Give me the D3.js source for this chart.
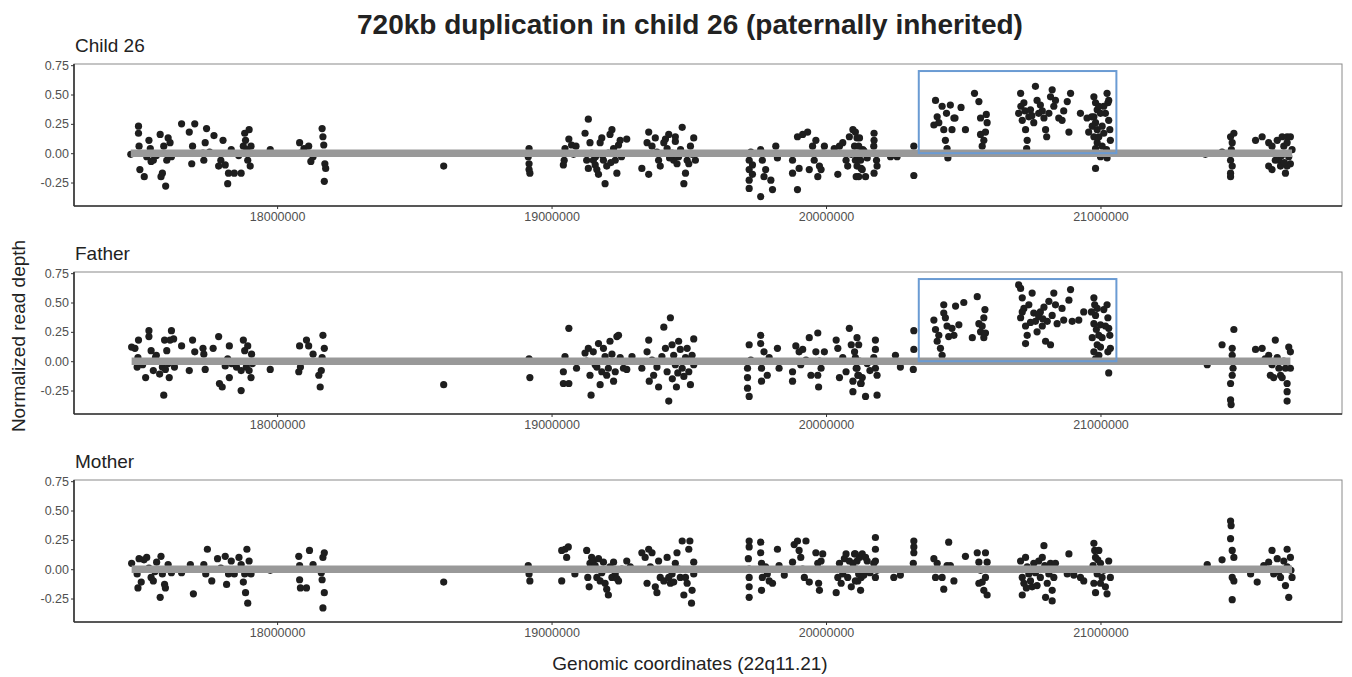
<!DOCTYPE html>
<html>
<head>
<meta charset="utf-8">
<script src="https://cdn.jsdelivr.net/npm/d3@7"></script>
<style>
    body { margin: 0; background: #fff; }
    text { font-family: "Liberation Sans", Arial, sans-serif; }
    .axis text { fill: #505050; font-size: 12.5px; }
    .axis line { stroke: #333; }
    .axis path { display: none; }
</style>
</head>
<body>
<div id="chart-area"></div>
<script>

// ---- data (positions in kb, normalized read depth) ----
const panelTitles = ["Child 26", "Father", "Mother"];
const xTicks = [18000000, 19000000, 20000000, 21000000];
const yTicks = [-0.25, 0, 0.25, 0.5, 0.75];
const dupRegion = [20338, 21058];   // kb
const dupTop = 0.70;
const showDupBox = [true, true, false];

const childPts = [
    [17467,-0.01],[17495,0.23],[17495,0.17],[17497,0.06],[17500,-0.14],[17516,-0.20],[17533,0.11],[17538,0.04],[17541,-0.07],[17549,-0.06],[17574,0.16],[17577,-0.20],[17582,-0.17],[17587,0.06],[17594,-0.28],[17598,-0.06],[17603,0.13],[17610,0.09],[17615,-0.03],[17560,-0.02],[17525,-0.03],
    [17652,0.25],[17680,0.18],[17689,-0.09],[17692,0.06],[17700,0.25],[17730,0.00],[17733,-0.06],[17738,0.09],[17743,0.21],[17754,0.01],[17770,0.15],[17787,-0.11],[17795,-0.06],[17803,0.11],[17811,-0.10],[17820,-0.26],[17823,-0.17],[17833,0.03],[17844,-0.17],[17869,-0.17],[17877,0.06],[17882,0.17],[17885,0.11],[17893,-0.06],[17898,0.20],[17902,-0.11],[17905,0.06],[17890,0.03],[17860,-0.02],
    [17975,0.03],
    [18082,0.09],[18085,0.00],[18098,0.04],[18115,0.06],[18123,-0.07],[18131,-0.03],[18164,0.21],[18167,0.14],[18170,0.07],[18174,-0.09],[18177,-0.13],[18172,-0.24],
    [18607,-0.11],
    [18915,-0.03],[18918,0.04],[18918,-0.09],[18918,-0.14],[18921,-0.17],
    [19043,-0.10],[19046,-0.06],[19049,0.04],[19063,0.12],[19073,0.07],[19089,0.06],[19080,-0.01],
    [19134,0.29],[19122,0.17],[19128,-0.06],[19134,-0.13],[19140,0.09],[19146,0.00],[19152,-0.06],[19159,-0.10],[19165,-0.14],[19171,-0.18],[19177,0.09],[19183,0.13],[19189,-0.06],[19195,-0.26],[19201,-0.11],[19207,0.00],[19213,0.16],[19220,0.20],[19226,0.04],[19232,-0.06],[19238,-0.17],[19244,0.07],[19250,0.11],[19274,0.12],[19160,-0.03],[19186,-0.02],[19216,-0.08],[19255,-0.03],
    [19354,0.18],[19348,0.09],[19329,-0.13],[19354,-0.18],[19366,0.06],[19378,0.13],[19390,-0.06],[19396,-0.11],[19409,0.09],[19421,0.04],[19427,0.16],[19439,0.00],[19445,-0.06],[19451,0.10],[19457,-0.09],[19463,-0.03],[19476,0.22],[19482,-0.26],[19488,-0.17],[19494,-0.06],[19500,-0.09],[19506,0.06],[19512,-0.01],[19518,0.13],[19524,-0.06],[19451,0.14],[19384,0.01],[19470,0.03],[19430,-0.04],[19415,0.12],
    [19720,-0.06],[19720,-0.14],[19720,-0.23],[19720,-0.30],[19726,0.01],[19732,-0.10],[19732,-0.18],[19762,0.03],[19762,-0.37],[19768,-0.06],[19774,-0.20],[19780,-0.14],[19799,-0.23],[19805,-0.31],[19817,0.06],[19823,-0.04],
    [19878,-0.06],[19878,-0.17],[19896,-0.31],[19896,0.14],[19902,-0.13],[19915,0.16],[19933,0.18],[19939,-0.14],[19951,0.06],[19957,-0.06],[19963,0.11],[19970,-0.20],[19976,-0.11],[19982,-0.14],[19988,0.00],[19994,0.06],
    [20030,0.04],[20043,-0.18],[20049,0.06],[20061,0.09],[20073,-0.06],[20079,-0.11],[20085,0.14],[20098,0.20],[20104,0.06],[20110,-0.20],[20116,-0.06],[20122,0.13],[20128,-0.13],[20134,0.03],[20092,-0.01],
    [20107,0.18],[20113,0.13],[20119,0.06],[20107,-0.06],[20113,-0.11],[20126,-0.06],[20132,-0.14],[20119,-0.20],[20144,-0.20],[20138,0.02],[20175,0.17],[20175,0.11],[20184,-0.06],[20175,-0.17],[20186,-0.11],[20174,0.06],[20150,-0.04],
    [20235,-0.03],[20259,-0.03],[20320,0.06],[20320,-0.19],
    [20399,0.45],[20411,0.26],[20423,0.40],[20429,0.20],[20435,0.11],[20439,0.34],[20441,0.04],[20444,-0.04],[20453,0.41],[20466,0.30],[20393,0.24],[20405,0.31],[20459,0.20],[20470,0.30],
    [20492,0.39],[20508,0.20],[20541,0.51],[20557,0.44],[20563,0.30],[20575,0.11],[20581,0.18],[20584,0.33],[20587,0.26],[20569,0.06],[20563,0.16],
    [20709,0.51],[20721,0.43],[20702,0.34],[20715,0.28],[20727,0.20],[20733,0.11],[20731,0.04],[20739,0.31],[20745,0.37],[20757,0.26],[20763,0.57],[20769,0.45],[20775,0.34],[20781,0.41],[20794,0.30],[20800,0.20],[20804,0.14],[20812,0.34],[20818,0.48],[20824,0.54],[20830,0.40],[20836,0.45],[20848,0.30],[20860,0.28],[20866,0.36],[20885,0.18],[20891,0.51],[20879,0.44],[20927,0.34],[20951,0.30],[20710,0.40],[20750,0.32],[20725,0.36],[20788,0.36],
    [20976,0.48],[20982,0.43],[20988,0.37],[20976,0.31],[20982,0.26],[20970,0.23],[20988,0.20],[20976,0.14],[20988,0.09],[20982,0.04],[21000,-0.03],[20982,-0.13],[21018,0.34],[21024,0.51],[21027,0.43],[21030,0.28],[21034,0.20],[21036,0.11],[21024,-0.04],[21022,0.03],[21012,0.40],[21006,0.23],[21000,0.34],[20994,0.14],[20968,0.31],[20957,0.18],[21030,0.45],[20994,0.40],[21006,0.06],[21012,0.17],
    [21382,-0.01],[21443,0.01],[21474,0.14],[21480,0.09],[21477,0.03],[21474,-0.06],[21480,-0.11],[21474,-0.17],[21474,-0.20],[21486,0.17],
    [21565,0.11],[21589,0.14],[21613,0.09],[21625,0.06],[21631,0.00],[21644,0.11],[21650,-0.06],[21656,-0.11],[21662,0.14],[21668,0.06],[21674,-0.17],[21680,0.14],[21686,-0.03],[21692,-0.09],[21698,0.03],[21613,-0.11],[21625,-0.14],[21637,-0.06],[21680,-0.11],[21692,0.14],[21680,0.09],[21660,-0.02],[21670,-0.08]
];

const fatherPts = [
    [17470,0.12],[17482,0.11],[17490,-0.05],[17493,0.03],[17495,0.18],[17533,0.26],[17533,0.21],[17521,-0.14],[17541,0.09],[17549,-0.08],[17557,0.03],[17572,-0.11],[17582,-0.05],[17587,-0.29],[17590,0.18],[17598,0.09],[17603,-0.02],[17610,0.18],[17615,0.26],[17623,0.19],[17607,-0.14],[17593,-0.07],[17626,-0.05],[17510,-0.03],[17560,0.05],
    [17652,0.13],[17680,-0.08],[17692,0.18],[17700,0.08],[17730,0.11],[17733,0.06],[17738,-0.07],[17767,0.11],[17787,0.21],[17790,-0.19],[17800,-0.22],[17811,-0.04],[17820,0.02],[17826,-0.14],[17826,0.13],[17834,-0.02],[17852,-0.05],[17869,-0.25],[17877,0.18],[17882,0.09],[17888,-0.05],[17893,0.13],[17898,-0.08],[17905,-0.14],[17907,0.06],[17910,-0.02],[17869,-0.08],
    [17975,-0.07],
    [18082,0.13],[18079,-0.09],[18085,-0.05],[18107,0.18],[18115,0.13],[18131,0.06],[18161,-0.08],[18164,0.03],[18167,0.22],[18157,-0.22],[18152,-0.12],[18172,0.11],
    [18607,-0.20],
    [18918,0.02],[18921,-0.14],
    [19049,0.04],[19043,-0.09],[19043,-0.19],[19063,0.28],[19063,-0.19],[19091,-0.06],[19122,0.07],[19128,0.00],[19134,0.11],[19140,-0.12],[19144,-0.29],[19152,0.08],[19159,-0.03],[19171,0.15],[19177,-0.20],[19183,-0.09],[19189,0.11],[19195,0.04],[19201,-0.12],[19207,-0.06],[19213,0.17],[19226,-0.17],[19232,-0.09],[19238,0.21],[19244,0.22],[19250,0.03],[19262,-0.06],[19274,-0.07],[19293,0.04],[19220,0.06],[19165,-0.05],
    [19329,-0.06],[19348,0.08],[19354,0.18],[19356,-0.17],[19366,0.01],[19372,-0.12],[19384,-0.05],[19390,-0.22],[19402,0.04],[19409,0.29],[19415,0.11],[19421,-0.09],[19427,-0.34],[19433,0.37],[19439,0.14],[19445,0.05],[19451,-0.03],[19455,-0.22],[19463,0.17],[19469,0.10],[19476,-0.06],[19482,-0.13],[19488,0.03],[19494,0.11],[19500,-0.09],[19506,-0.20],[19512,0.05],[19518,0.19],[19518,-0.03],[19460,-0.10],[19440,-0.15],
    [19720,0.14],[19714,-0.06],[19714,-0.14],[19714,-0.23],[19720,-0.30],[19726,0.01],[19762,0.22],[19762,0.15],[19765,-0.06],[19765,-0.17],[19774,0.08],[19786,-0.12],[19793,0.03],[19823,0.11],[19829,-0.06],
    [19878,-0.09],[19878,-0.17],[19890,0.13],[19902,0.08],[19908,-0.03],[19915,0.10],[19927,0.01],[19939,0.20],[19945,-0.12],[19970,0.24],[19963,0.08],[19970,-0.12],[19973,-0.22],[19976,0.00],[19982,-0.06],[19994,0.08],
    [20037,0.18],[20043,0.11],[20049,-0.14],[20061,0.03],[20073,-0.09],[20085,0.28],[20092,0.14],[20098,-0.17],[20098,-0.26],[20104,0.08],[20110,-0.06],[20116,-0.12],[20122,0.00],[20128,-0.19],
    [20113,0.20],[20119,0.14],[20107,0.03],[20113,-0.06],[20119,-0.12],[20126,-0.19],[20144,-0.30],[20132,-0.14],[20180,0.18],[20180,0.10],[20180,-0.06],[20186,-0.29],[20186,-0.12],[20174,0.03],[20150,-0.02],[20160,-0.08],
    [20253,0.05],[20271,-0.05],[20320,0.26],[20320,0.10],[20318,-0.07],
    [20393,0.35],[20399,0.27],[20405,0.17],[20411,0.22],[20417,0.11],[20423,0.05],[20429,0.48],[20429,0.41],[20435,0.37],[20441,0.30],[20447,0.21],[20459,0.28],[20466,0.22],[20472,0.47],[20484,0.31],[20502,0.50],[20533,0.20],[20551,0.55],[20557,0.32],[20563,0.25],[20569,0.30],[20575,0.37],[20579,0.44],[20581,0.24],[20575,0.20],
    [20702,0.65],[20709,0.62],[20715,0.54],[20721,0.45],[20709,0.37],[20727,0.30],[20733,0.22],[20727,0.15],[20739,0.48],[20751,0.58],[20757,0.41],[20763,0.34],[20769,0.25],[20775,0.38],[20781,0.42],[20788,0.30],[20794,0.46],[20800,0.17],[20806,0.34],[20812,0.51],[20818,0.14],[20824,0.39],[20830,0.58],[20836,0.48],[20842,0.32],[20860,0.45],[20866,0.35],[20885,0.52],[20891,0.61],[20897,0.34],[20921,0.35],[20939,0.42],[20715,0.42],[20745,0.33],[20790,0.36],
    [20976,0.54],[20979,0.48],[20982,0.39],[20976,0.32],[20985,0.27],[20970,0.20],[20988,0.14],[20976,0.08],[20994,0.05],[21024,0.48],[21027,0.37],[21030,0.28],[21034,0.22],[21036,0.11],[21027,0.08],[21030,-0.10],[21012,0.44],[21006,0.20],[21000,0.31],[20994,0.22],[20967,0.42],[20988,0.45],[21018,0.30],[21000,0.12],[20982,0.02],
    [21389,-0.03],[21443,0.14],[21486,0.27],[21480,0.11],[21480,0.05],[21483,-0.06],[21480,-0.12],[21474,-0.19],[21474,-0.33],[21476,-0.37],
    [21565,0.10],[21589,0.11],[21613,0.05],[21625,-0.03],[21637,0.18],[21644,0.03],[21650,-0.06],[21656,-0.12],[21668,0.00],[21674,-0.06],[21680,-0.19],[21680,-0.26],[21680,-0.34],[21686,0.12],[21692,0.08],[21692,-0.06],[21619,-0.12],[21631,-0.14],[21662,-0.14],[21600,0.02]
];

const motherPts = [
    [17470,0.05],[17490,-0.04],[17493,-0.16],[17497,0.09],[17505,-0.11],[17525,0.10],[17533,0.01],[17541,-0.07],[17549,-0.10],[17561,0.06],[17574,-0.24],[17577,0.11],[17582,-0.04],[17590,-0.13],[17593,-0.16],[17603,0.04],[17615,-0.03],[17515,0.08],[17555,-0.02],
    [17652,-0.03],[17684,0.04],[17695,-0.21],[17733,0.04],[17740,-0.04],[17746,0.17],[17762,-0.10],[17783,0.09],[17795,0.01],[17811,0.11],[17816,-0.13],[17823,-0.04],[17833,0.07],[17844,-0.04],[17861,0.10],[17869,0.04],[17877,-0.11],[17885,-0.20],[17890,0.17],[17893,-0.29],[17898,0.07],[17905,-0.04],[17882,-0.04],
    [17975,-0.01],
    [18079,0.11],[18082,0.03],[18082,-0.09],[18085,-0.16],[18107,-0.16],[18118,0.16],[18131,0.04],[18161,-0.03],[18164,-0.09],[18167,0.10],[18172,-0.20],[18172,0.14],[18167,-0.33],
    [18607,-0.11],
    [18915,0.03],[18918,-0.04],[18921,-0.10],
    [19037,-0.10],[19037,0.16],[19049,0.17],[19061,0.19],[19055,0.10],[19085,-0.04],[19128,0.16],[19132,-0.07],[19137,-0.15],[19140,0.05],[19146,0.10],[19152,0.07],[19159,0.03],[19165,-0.07],[19171,0.09],[19177,-0.10],[19183,-0.03],[19189,0.06],[19195,-0.12],[19201,-0.17],[19207,-0.22],[19213,0.02],[19220,-0.07],[19226,0.06],[19232,-0.04],[19238,-0.08],[19244,-0.10],[19256,0.00],[19274,0.07],[19287,0.02],
    [19329,0.14],[19341,0.10],[19348,-0.12],[19354,0.17],[19360,0.02],[19366,0.14],[19378,-0.15],[19384,-0.20],[19390,0.07],[19396,-0.07],[19409,-0.10],[19421,0.10],[19427,-0.07],[19433,-0.12],[19439,-0.04],[19445,-0.11],[19451,0.05],[19457,0.14],[19463,0.00],[19469,-0.07],[19476,0.24],[19482,-0.22],[19488,-0.07],[19494,-0.12],[19500,0.17],[19504,0.24],[19510,-0.29],[19512,-0.18],[19518,0.06],[19518,-0.04],
    [19720,0.24],[19720,0.19],[19717,0.09],[19720,0.00],[19720,-0.07],[19720,-0.15],[19720,-0.24],[19762,0.23],[19762,0.14],[19765,0.05],[19768,-0.07],[19765,-0.18],[19780,0.02],[19786,-0.04],[19793,-0.10],[19805,-0.12],[19823,0.17],[19829,0.03],[19848,-0.05],[19878,0.06],[19884,0.21],[19896,0.24],[19902,0.16],[19908,0.10],[19915,0.00],[19921,-0.07],[19927,0.24],[19939,-0.11],[19963,0.14],[19970,0.05],[19973,-0.12],[19976,-0.18],[19982,0.07],[19988,0.13],
    [20037,-0.20],[20043,-0.07],[20049,0.05],[20055,-0.12],[20061,-0.04],[20067,0.09],[20073,0.13],[20079,-0.07],[20085,0.07],[20092,-0.15],[20098,0.05],[20104,0.13],[20110,0.00],[20116,-0.10],[20122,0.10],[20128,-0.07],
    [20107,0.13],[20113,0.07],[20119,-0.04],[20107,-0.10],[20126,-0.18],[20132,0.13],[20144,0.10],[20138,-0.05],[20150,0.07],[20180,0.27],[20180,0.17],[20180,0.07],[20180,-0.07],[20186,-0.01],[20174,0.05],[20160,-0.03],
    [20247,-0.07],[20271,-0.05],[20320,0.24],[20320,0.19],[20320,0.14],[20318,0.05],
    [20393,0.09],[20405,0.05],[20399,-0.07],[20423,-0.07],[20429,-0.17],[20441,0.03],[20447,0.23],[20453,0.03],[20466,-0.10],[20508,0.11],[20551,0.14],[20557,0.06],[20563,-0.01],[20581,-0.07],[20569,-0.11],[20575,-0.18],[20587,-0.22],[20581,0.14],[20587,0.06],[20557,-0.12],
    [20709,0.07],[20715,-0.07],[20721,-0.12],[20715,-0.22],[20727,0.10],[20733,0.02],[20739,-0.04],[20745,-0.10],[20751,-0.15],[20757,0.05],[20763,-0.03],[20769,-0.14],[20775,0.07],[20781,-0.07],[20788,0.10],[20794,0.20],[20797,0.03],[20800,-0.24],[20806,-0.12],[20812,-0.04],[20818,0.05],[20824,-0.18],[20830,-0.07],[20824,-0.27],[20836,0.05],[20730,-0.16],[20760,0.00],
    [20885,0.13],[20879,-0.04],[20903,-0.05],[20927,-0.07],[20939,-0.10],
    [20976,0.22],[20979,0.16],[20982,0.10],[20973,0.03],[20988,-0.04],[20976,-0.12],[20982,-0.20],[21000,0.05],[21006,-0.07],[21012,-0.01],[21018,-0.15],[21024,-0.21],[21030,0.07],[21036,-0.07],[20994,0.16],[21000,-0.12],[20990,0.08],
    [21389,0.04],[21443,0.08],[21474,0.41],[21476,0.37],[21474,0.26],[21480,0.16],[21486,0.10],[21480,-0.07],[21486,-0.10],[21480,-0.26],[21547,-0.04],[21571,-0.11],[21595,0.03],[21613,0.06],[21625,0.16],[21631,-0.04],[21644,0.09],[21656,-0.07],[21668,0.07],[21674,-0.14],[21680,0.17],[21686,-0.24],[21692,0.10],[21694,-0.01],[21698,-0.07],[21680,0.02],[21650,-0.02]
];

const panelData = [childPts, fatherPts, motherPts];


/* * * * * * * * * * * * * *
*    Read depth panel      *
* * * * * * * * * * * * * */

class DepthPanel {

    constructor(svg, top, title, points, showBox) {
        this.svg = svg;
        this.top = top;
        this.title = title;
        this.data = points.map(d => ({pos: d[0] * 1000, val: d[1]}));
        this.showBox = showBox;

        this.initVis();
    }

    initVis() {
        let vis = this;

        vis.margin = {top: vis.top, left: 74};
        vis.width = 1268;
        vis.height = 142;

        vis.g = vis.svg.append("g")
            .attr("transform", "translate(" + vis.margin.left + "," + vis.margin.top + ")");

        // scales
        vis.x = d3.scaleLinear()
            .domain([17260000, 21880000])
            .range([0, vis.width]);

        vis.y = d3.scaleLinear()
            .domain([-0.45, 0.76])
            .range([vis.height, 0]);

        // panel title
        vis.svg.append("text")
            .attr("x", 75)
            .attr("y", vis.top - 12)
            .attr("font-size", "19px")
            .attr("fill", "#222")
            .text(vis.title);

        // panel border (thin gray)
        vis.g.append("rect")
            .attr("width", vis.width)
            .attr("height", vis.height)
            .attr("fill", "none")
            .attr("stroke", "#8a8a8a")
            .attr("stroke-width", 1);

        // axes
        vis.xAxis = d3.axisBottom(vis.x)
            .tickValues(xTicks)
            .tickFormat(d3.format("d"))
            .tickSize(3)
            .tickPadding(3);

        vis.yAxis = d3.axisLeft(vis.y)
            .tickValues(yTicks)
            .tickFormat(d => d.toFixed(2))
            .tickSize(3)
            .tickPadding(2);

        vis.g.append("g")
            .attr("class", "x-axis axis")
            .attr("transform", "translate(0," + vis.height + ")")
            .call(vis.xAxis);

        vis.g.append("g")
            .attr("class", "y-axis axis")
            .call(vis.yAxis);

        // dark axis lines on left and bottom
        vis.g.append("line")
            .attr("x1", 0).attr("x2", vis.width)
            .attr("y1", vis.height).attr("y2", vis.height)
            .attr("stroke", "#333").attr("stroke-width", 1.6);
        vis.g.append("line")
            .attr("x1", 0).attr("x2", 0)
            .attr("y1", 0).attr("y2", vis.height)
            .attr("stroke", "#333").attr("stroke-width", 1.6);

        vis.updateVis();
    }

    updateVis() {
        let vis = this;

        // points
        vis.g.selectAll(".dot")
            .data(vis.data)
            .enter().append("circle")
            .attr("class", "dot")
            .attr("cx", d => vis.x(d.pos))
            .attr("cy", d => vis.y(d.val))
            .attr("r", 3.6)
            .attr("fill", "#1e1e1e");

        // baseline at 0 across the probed range
        let ext = d3.extent(vis.data, d => d.pos);
        vis.g.append("line")
            .attr("x1", vis.x(ext[0]))
            .attr("x2", vis.x(ext[1]))
            .attr("y1", vis.y(0))
            .attr("y2", vis.y(0))
            .attr("stroke", "#999")
            .attr("stroke-width", 7.5);

        // duplication box
        if (vis.showBox) {
            vis.g.append("rect")
                .attr("x", vis.x(dupRegion[0] * 1000))
                .attr("y", vis.y(dupTop))
                .attr("width", vis.x(dupRegion[1] * 1000) - vis.x(dupRegion[0] * 1000))
                .attr("height", vis.y(0) - vis.y(dupTop))
                .attr("fill", "none")
                .attr("stroke", "#6a9bd3")
                .attr("stroke-width", 2);
        }
    }
}


// SVG drawing area
let svg = d3.select("#chart-area").append("svg")
    .attr("width", 1352)
    .attr("height", 677);

// main title
svg.append("text")
    .attr("x", 690)
    .attr("y", 34)
    .attr("text-anchor", "middle")
    .attr("font-size", "28px")
    .attr("font-weight", "bold")
    .attr("fill", "#222")
    .text("720kb duplication in child 26 (paternally inherited)");

let panelTops = [64, 272, 480];
let panels = panelTitles.map((t, i) => new DepthPanel(svg, panelTops[i], t, panelData[i], showDupBox[i]));

// shared axis titles
svg.append("text")
    .attr("transform", "translate(25,336) rotate(-90)")
    .attr("text-anchor", "middle")
    .attr("font-size", "19px")
    .attr("fill", "#222")
    .text("Normalized read depth");

svg.append("text")
    .attr("x", 690)
    .attr("y", 670)
    .attr("text-anchor", "middle")
    .attr("font-size", "19px")
    .attr("fill", "#222")
    .text("Genomic coordinates (22q11.21)");

</script>
</body>
</html>
